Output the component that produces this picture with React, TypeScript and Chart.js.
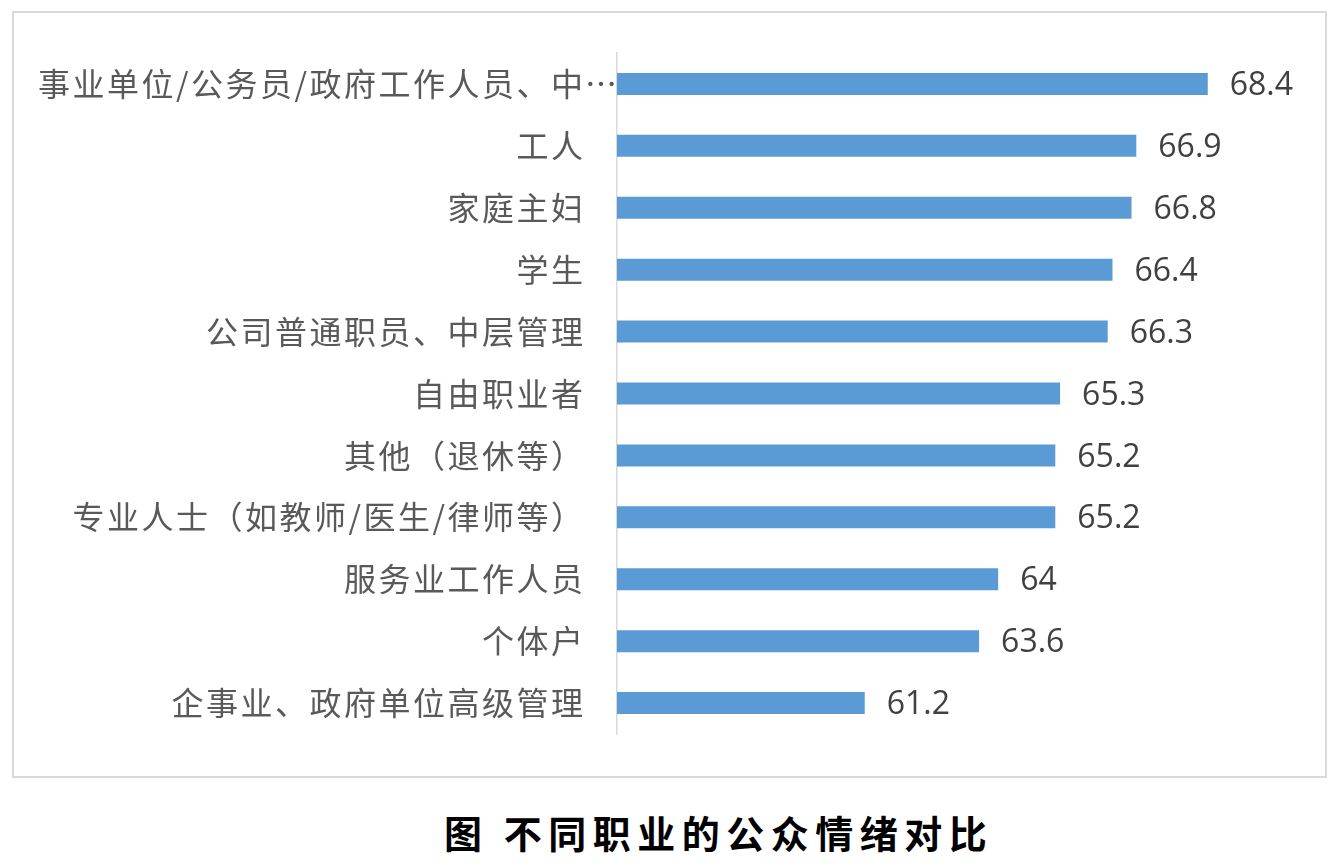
import { useEffect, useRef } from 'react';
import { Chart, registerables } from 'chart.js';

Chart.register(...registerables);

const categories = [
  '事业单位/公务员/政府工作人员、中…',
  '工人',
  '家庭主妇',
  '学生',
  '公司普通职员、中层管理',
  '自由职业者',
  '其他（退休等）',
  '专业人士（如教师/医生/律师等）',
  '服务业工作人员',
  '个体户',
  '企事业、政府单位高级管理',
];
const values = [68.4, 66.9, 66.8, 66.4, 66.3, 65.3, 65.2, 65.2, 64, 63.6, 61.2];
const axisMin = 56;
const axisMax = 70;
const caption = '图 不同职业的公众情绪对比';

const labelSpacing = 2.5;

// category names and value labels are drawn by hand so the ellipsis can hang past the text edge
const labelPlugin = {
  id: 'barLabels',
  afterDatasetsDraw(chart: any) {
    const { ctx, chartArea } = chart;
    const yScale = chart.scales.y;
    const meta = chart.getDatasetMeta(0);
    ctx.save();
    ctx.font = '32px "Noto Sans CJK SC", sans-serif';
    ctx.fillStyle = '#595959';
    ctx.textBaseline = 'middle';
    ctx.letterSpacing = labelSpacing + 'px';
    const right = chartArea.left - 34;
    categories.forEach((name, i) => {
      const py = yScale.getPixelForValue(i);
      ctx.textAlign = 'right';
      if (name.endsWith('…')) {
        ctx.fillText(name.slice(0, -1), right + labelSpacing, py);
        ctx.textAlign = 'left';
        ctx.fillText('…', right + 2, py);
      } else {
        ctx.fillText(name, right + labelSpacing, py);
      }
    });

    ctx.letterSpacing = '0px';
    ctx.font = '32px "Open Sans", sans-serif';
    ctx.fillStyle = '#404040';
    ctx.textAlign = 'left';
    meta.data.forEach((bar: any, i: number) => {
      ctx.fillText(String(values[i]), bar.x + 22, bar.y + 2);
    });
    ctx.restore();
  },
};

const OccupationChart = () => {
  const chartRef = useRef<HTMLCanvasElement | null>(null);

  useEffect(() => {
    if (!chartRef.current) return;
    const chart = new Chart(chartRef.current, {
      type: 'bar',
      data: {
        labels: categories,
        datasets: [{
          data: values,
          backgroundColor: '#5B9BD5',
          barPercentage: 0.355,
          categoryPercentage: 1,
        }],
      },
      options: {
        indexAxis: 'y',
        animation: false,
        responsive: true,
        maintainAspectRatio: false,
        layout: {
          padding: { left: 0, top: 40, right: 41, bottom: 42 },
        },
        scales: {
          x: {
            type: 'linear',
            min: axisMin,
            max: axisMax,
            display: false,
          },
          y: {
            grid: { display: false },
            border: { display: true, color: '#d9d9d9', width: 1.5 },
            ticks: { display: false },
            afterFit: (scale: any) => {
              scale.width = 603; // puts the axis line where the reference has it
            },
          },
        },
        plugins: {
          legend: { display: false },
          tooltip: { enabled: false },
        },
      },
      plugins: [labelPlugin],
    });

    return () => {
      chart.destroy();
    };
  }, []);

  return (
    <>
      <div style={{
        position: 'absolute', left: 12, top: 11, width: 1311, height: 763,
        border: '2px solid #d9d9d9', background: '#fff',
      }}>
        <canvas ref={chartRef}></canvas>
      </div>
      <div style={{
        position: 'absolute', left: 444, top: 810, whiteSpace: 'pre',
        fontFamily: '"Noto Sans CJK SC", sans-serif', fontWeight: 700,
        fontSize: 38, lineHeight: '44px', letterSpacing: '6.5px', color: '#000',
      }}>
        {caption}
      </div>
    </>
  );
};

export default function App() {
  return <OccupationChart />;
}
